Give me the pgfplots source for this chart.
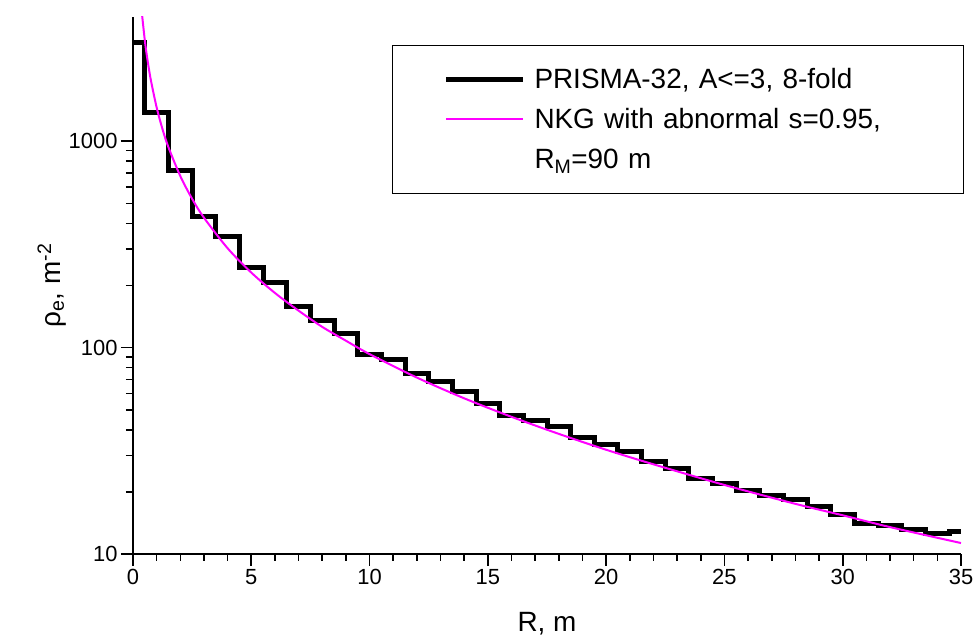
\documentclass[border=0pt]{standalone}
\usepackage{fontspec}
\setmainfont{Liberation Sans}
\usepackage{pgfplots}
\pgfplotsset{compat=1.18}
\definecolor{nkg}{RGB}{255,0,255}

\begin{document}
\begin{tikzpicture}
\useasboundingbox (-133bp,-82bp) rectangle (843bp,554bp);
\begin{axis}[
  at={(0,0)}, anchor=south west,
  scale only axis, width=828bp, height=537bp,
  xmin=0, xmax=35, ymin=10, ymax=4000, ymode=log,
  axis x line*=bottom, axis y line*=left,
  axis line style={line width=2bp, -},
  xtick={0,5,...,35}, minor x tick num=4,
  ytick={10,100,1000}, yticklabels={10,100,1000},
  tick align=outside,
  major tick length=12bp, minor tick length=7bp,
  tick style={line width=1.6bp, black},
  tick label style={font=\fontsize{22}{26}\selectfont},
  /pgf/number format/assume math mode=true,
  label style={font=\fontsize{28}{34}\selectfont},
  xlabel={R, m}, ylabel={ρ\textsubscript{e}, m\textsuperscript{-2}},
  xlabel style={yshift=-20bp},
  ylabel style={yshift=-4bp},
  legend style={at={(0.3128,0.948)}, anchor=north west, draw=black, line width=1bp,
    inner xsep=0bp, inner ysep=20bp, row sep=12bp, column sep=0bp,
    font=\fontsize{28}{34}\selectfont, cells={anchor=base west},
    nodes={inner xsep=5bp, inner ysep=0bp, text width=424bp, align=left,
      text height=23bp, text depth=5bp}},
  legend image code/.code={\path (-51bp,9bp) (81bp,9bp); \draw[#1] (0bp,9bp) -- (77bp,9bp);},
]
\addplot[const plot mark left, black, line width=5bp, line join=miter] coordinates {
(0,3000) (0.5,1384) (1.5,718) (2.5,434) (3.5,345) (4.5,244) (5.5,207) (6.5,159)
(7.5,136) (8.5,117) (9.5,92.3) (10.5,87.5) (11.5,74.8) (12.5,68.6) (13.5,61.4)
(14.5,53.9) (15.5,46.9) (16.5,44.2) (17.5,41.5) (18.5,36.5) (19.5,33.8) (20.5,31.4)
(21.5,28.1) (22.5,26.1) (23.5,23.3) (24.5,22.0) (25.5,20.3) (26.5,19.3) (27.5,18.3)
(28.5,16.9) (29.5,15.6) (30.5,14.1) (31.5,13.7) (32.5,13.2) (33.5,12.6) (34.5,12.8) (35,12.8)
};
\addlegendentry{PRISMA-32, A<=3, 8-fold}
\addplot[nkg, line width=2bp, smooth] coordinates {
(0.38,4128) (0.5,3079) (0.6,2532) (0.75,1992) (1,1458) (1.25,1142) (1.5,934) (2,678)
(2.5,526) (3,426) (4,303) (5,231) (6,184) (7,151) (8,126) (9,108) (10,93) (12,71.6)
(14,56.8) (16,46.2) (18,38.2) (20,32.0) (22,27.2) (25,21.6) (28,17.5) (30,15.4)
(32,13.5) (35,11.3)
};
\addlegendentry{NKG with abnormal s=0.95,}
\addlegendimage{empty legend}
\addlegendentry{R\textsubscript{M}=90 m}
\end{axis}
\end{tikzpicture}
\end{document}
